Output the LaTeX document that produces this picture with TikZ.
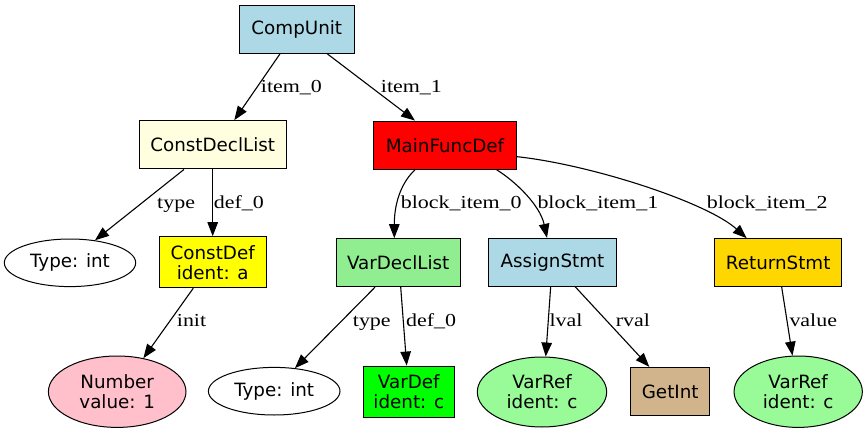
\documentclass[tikz,border=0pt]{standalone}
\usepackage{fontspec}
\usetikzlibrary{arrows.meta,shapes.geometric}
\newfontfamily\nodefont{DejaVu Sans}
\newfontfamily\labelfont[FakeStretch=1.2]{Liberation Serif}
\definecolor{lblue}{HTML}{ADD8E6}
\definecolor{lyellow}{HTML}{FFFFE0}
\definecolor{lgreen}{HTML}{90EE90}
\definecolor{pgreen}{HTML}{98FB98}
\definecolor{pinkc}{HTML}{FFC0CB}
\definecolor{tanc}{HTML}{D2B48C}
\definecolor{goldc}{HTML}{FFD700}
\definecolor{redc}{HTML}{FF0000}
\definecolor{yellowc}{HTML}{FFFF00}
\definecolor{greenc}{HTML}{00FF00}
\begin{document}
\begin{tikzpicture}[x=1pt,y=-1pt,
  box/.style={draw=black,line width=1pt,rectangle,inner sep=0pt,align=center,
    font=\nodefont\fontsize{18.3}{20}\selectfont},
  oval/.style={draw=black,line width=1pt,ellipse,inner sep=0pt,align=center,
    font=\nodefont\fontsize{18.3}{20}\selectfont},
  edge/.style={draw=black,line width=1.1pt,-{Triangle[length=14pt,width=10.5pt]}},
  elabel/.style={anchor=base west,inner sep=0pt,
    font=\labelfont\fontsize{18.3}{20}\selectfont}]
\useasboundingbox (0,0) rectangle (868,433);
% nodes
\node[box,fill=lblue,minimum width=115pt,minimum height=48.3pt] (cu) at (296.8,29.2) {CompUnit};
\node[box,fill=lyellow,minimum width=146.7pt,minimum height=48.3pt] (cdl) at (212.7,144.8) {ConstDeclList};
\node[box,fill=redc,minimum width=143.3pt,minimum height=48.3pt] (mfd) at (445,145.2) {MainFuncDef};
\node[oval,fill=white,minimum width=131.4pt,minimum height=47.6pt] (t1) at (70,262.8) {Type: int};
\node[box,fill=yellowc,minimum width=106.7pt,minimum height=51pt] (cd) at (212.7,262.2) {ConstDef\\ident: a};
\node[box,fill=lgreen,minimum width=124.3pt,minimum height=48pt] (vdl) at (398.2,262.7) {VarDeclList};
\node[box,fill=lblue,minimum width=128.3pt,minimum height=47.7pt] (as) at (552.5,262.2) {AssignStmt};
\node[box,fill=goldc,minimum width=127pt,minimum height=48pt] (rs) at (778.2,262.7) {ReturnStmt};
\node[oval,fill=pinkc,minimum width=137.6pt,minimum height=71.4pt] (num) at (117.2,391.7) {Number\\value: 1};
\node[oval,fill=white,minimum width=131.6pt,minimum height=47.6pt] (t2) at (274.2,391.2) {Type: int};
\node[box,fill=greenc,minimum width=91pt,minimum height=51.3pt] (vdef) at (408.8,391.7) {VarDef\\ident: c};
\node[oval,fill=pgreen,minimum width=129.4pt,minimum height=70pt] (vr1) at (542,392) {VarRef\\ident: c};
\node[box,fill=tanc,minimum width=79pt,minimum height=48.4pt] (gi) at (670.2,391.5) {GetInt};
\node[oval,fill=pgreen,minimum width=128.3pt,minimum height=71.4pt] (vr2) at (798.2,391.7) {VarRef\\ident: c};
% edges
\draw[edge] ([xshift=-16.8pt]cu.south) -- ([xshift=21.6pt]cdl.north);
\draw[edge] ([xshift=30.5pt]cu.south) -- ([xshift=-30pt]mfd.north);
\draw[edge] ([xshift=-28.7pt]cdl.south) -- (t1.42);
\draw[edge] (cdl.south) -- (cd.north);
\draw[edge] ([xshift=-19.4pt]cd.south) -- (num.52);
\draw[edge] ([xshift=-30pt]mfd.south) .. controls +(-12,11) and +(0,-38) .. ([xshift=-3.9pt]vdl.north);
\draw[edge] ([xshift=51.7pt]mfd.south) .. controls +(18,11) and +(-7,-33) .. ([xshift=-5.5pt]as.north);
\draw[edge] ([yshift=-11.5pt]mfd.east) .. controls +(74,8) and +(-40,-36) .. ([xshift=-31.5pt]rs.north);
\draw[edge] ([xshift=-23.2pt]vdl.south) -- (t2.48);
\draw[edge] ([xshift=2.5pt]vdl.south) -- ([xshift=-2.1pt]vdef.north);
\draw[edge] ([xshift=-1.8pt]as.south) -- (vr1.84);
\draw[edge] ([xshift=22.5pt]as.south) -- ([xshift=-20.9pt]gi.north);
\draw[edge] ([xshift=3.5pt]rs.south) -- (vr2.99);
% edge labels
\node[elabel] (l1) at (260.7,93) {item\_0};
\node[elabel] (l2) at (380.7,93) {item\_1};
\node[elabel] (l3) at (157,208) {type};
\node[elabel] (l4) at (213.6,208) {def\_0};
\node[elabel] (l5) at (176.7,326.7) {init};
\node[elabel] (l6) at (400.7,208) {block\_item\_0};
\node[elabel] (l7) at (537.3,208) {block\_item\_1};
\node[elabel] (l8) at (706.7,208) {block\_item\_2};
\node[elabel] (l9) at (352.7,326.7) {type};
\node[elabel] (l10) at (406,326.7) {def\_0};
\node[elabel] (l11) at (549.3,326.7) {lval};
\node[elabel] (l12) at (615.7,326.7) {rval};
\node[elabel] (l13) at (789.3,326.7) {value};
\end{tikzpicture}
\end{document}
